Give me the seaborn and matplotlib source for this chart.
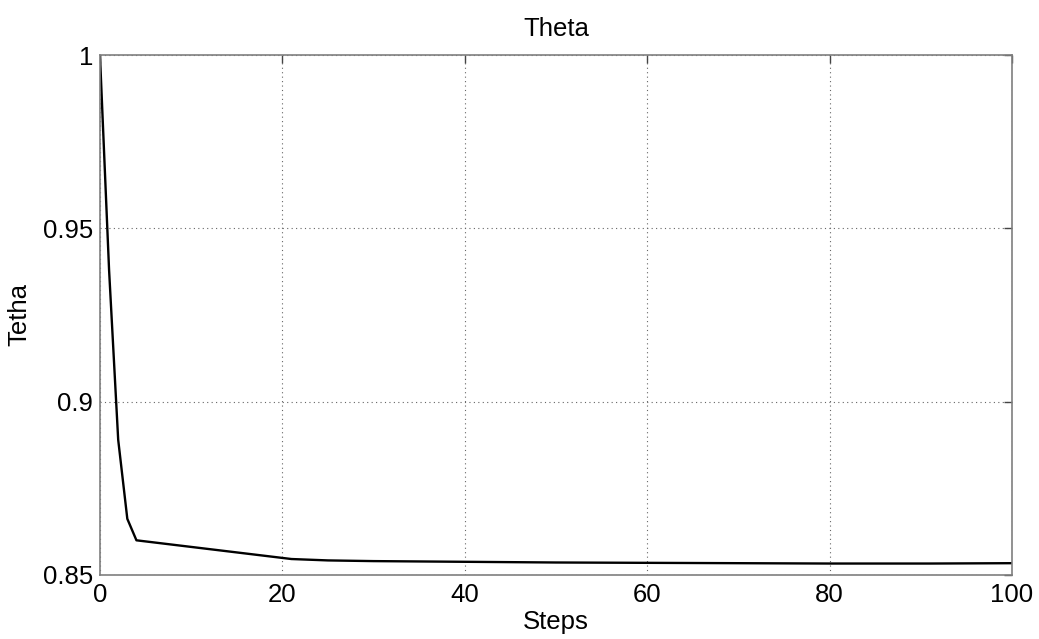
import numpy as np
import pandas as pd
import matplotlib
matplotlib.use("Agg")
import matplotlib.pyplot as plt
import seaborn as sns

# polyline vertices
steps = [0, 1, 2, 3, 4, 21, 25, 30, 40, 50, 60, 70, 80, 91, 100]
theta = [1.0, 0.938, 0.889, 0.8662, 0.8600, 0.8546, 0.8542, 0.8540,
         0.8538, 0.8536, 0.8535, 0.8534, 0.8533, 0.8533, 0.8534]

x_ticks = [0, 20, 40, 60, 80, 100]
y_ticks = [0.85, 0.9, 0.95, 1.0]
y_tick_labels = ["0.85", "0.9", "0.95", "1"]

df = pd.DataFrame({"Steps": steps, "Theta": theta})

sns.set_theme(style="white")
plt.rcParams["font.family"] = ["Liberation Sans", "DejaVu Sans"]
plt.rcParams["text.color"] = "black"
plt.rcParams["axes.labelcolor"] = "black"

fig = plt.figure(figsize=(10.39, 6.39), dpi=100)
ax = fig.add_axes([0.0962, 0.1002, 0.8778, 0.8137])

sns.lineplot(data=df, x="Steps", y="Theta", color="black", linewidth=1.7, ax=ax)

ax.set_xlim(0, 100)
ax.set_ylim(0.85, 1.0)
ax.set_xticks(x_ticks)
ax.set_xticklabels([str(t) for t in x_ticks])
ax.set_yticks(y_ticks)
ax.set_yticklabels(y_tick_labels)

ax.grid(True, linestyle=(0, (1, 3)), color="#666666", linewidth=0.8)
for s in ax.spines.values():
    s.set_color("#7f7f7f")
    s.set_linewidth(1.2)
    s.set_visible(True)

ax.tick_params(axis="both", which="both", direction="in", length=6, width=1,
               color="#444444", labelsize=18.5, labelcolor="black",
               top=True, right=True, pad=5)
ax.tick_params(axis="x", pad=6)

ax.set_title("Theta", fontsize=18.5, pad=14, color="black")
ax.set_xlabel("Steps", fontsize=18.5, labelpad=2, color="black")
ax.set_ylabel("Tetha", fontsize=18.5, labelpad=8, color="black")

fig.savefig("out.png", dpi=100, facecolor="white")
